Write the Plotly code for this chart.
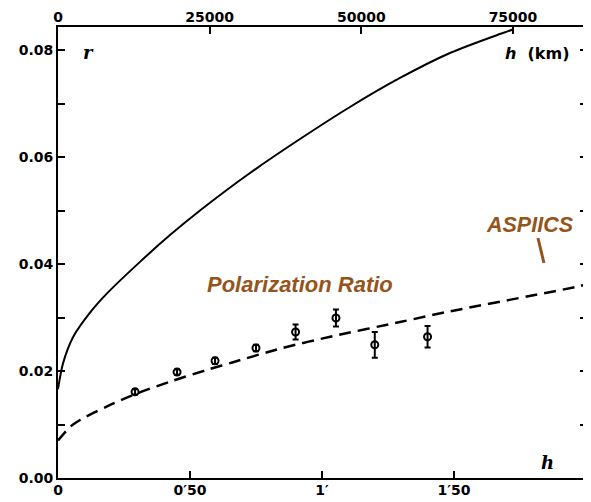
import plotly.graph_objects as go

# Solid curve (upper), x in arcmin
solid_x = [0, 0.0189, 0.0568, 0.1212, 0.1856, 0.3106, 0.4242, 0.5379, 0.7273, 0.9167, 1.1061, 1.2955, 1.4848, 1.6742, 1.7235]
solid_y = [0.0166, 0.0214, 0.0263, 0.0309, 0.0345, 0.0404, 0.0454, 0.0500, 0.05701, 0.06336, 0.06935, 0.07477, 0.07944, 0.08299, 0.08383]

# Dashed curve (polarization ratio)
dash_x = [0, 0.057, 0.186, 0.31, 0.436, 0.564, 0.66, 0.85, 1.04, 1.30, 1.47, 1.97, 2.0]
dash_y = [0.0070, 0.0100, 0.0134, 0.0160, 0.0182, 0.0202, 0.0216, 0.0243, 0.0265, 0.0292, 0.0310, 0.0358, 0.0362]

# Measured points
pts_x = [0.292, 0.451, 0.595, 0.75, 0.90, 1.053, 1.20, 1.40]
pts_y = [0.0161, 0.0198, 0.0219, 0.0243, 0.0273, 0.0299, 0.0249, 0.0264]
pts_err = [0.0005, 0.0005, 0.0006, 0.0006, 0.0014, 0.0016, 0.0024, 0.0020]

# Axes ticks
bottom_tickvals = [0, 0.5, 1.0, 1.5]
bottom_ticktext = ["0", "0′50", "1′", "1′50"]
top_tickvals = [0, 25000, 50000, 75000]
top_ticktext = ["0", "25000", "50000", "75000"]
y_tickvals = [0, 0.01, 0.02, 0.03, 0.04, 0.05, 0.06, 0.07, 0.08]
y_ticktext = ["0.00", "", "0.02", "", "0.04", "", "0.06", "", "0.08"]

X_MAX = 2.004
KM_MAX = 87200
Y_MAX = 0.0843

brown = "#94541c"
tickfont = dict(family="DejaVu Sans", size=14, color="black", weight="bold")

fig = go.Figure()
fig.add_trace(go.Scatter(x=solid_x, y=solid_y, mode="lines",
                         line=dict(color="black", width=2, shape="spline", smoothing=0.8),
                         showlegend=False, hoverinfo="skip"))
fig.add_trace(go.Scatter(x=dash_x, y=dash_y, mode="lines",
                         line=dict(color="black", width=2.5, dash="12px,7px", shape="spline", smoothing=0.8),
                         showlegend=False, hoverinfo="skip"))
fig.add_trace(go.Scatter(x=pts_x, y=pts_y, mode="markers",
                         marker=dict(symbol="circle-open", size=7, color="black", line=dict(width=2)),
                         error_y=dict(type="data", array=pts_err, visible=True, color="black", thickness=2, width=3),
                         showlegend=False))
# dummy trace for top axis
fig.add_trace(go.Scatter(x=[0, KM_MAX], y=[None, None], xaxis="x2", yaxis="y", mode="lines",
                         showlegend=False, hoverinfo="skip"))

# page body has an 8px margin: figure is sized so that plot area lands where the reference has it
fig.update_layout(
    width=583, height=494,
    margin=dict(l=50, r=4, t=19, b=24),
    paper_bgcolor="white", plot_bgcolor="white",
    xaxis=dict(range=[0, X_MAX], tickvals=bottom_tickvals, ticktext=bottom_ticktext,
               ticks="inside", ticklen=7, tickwidth=2, tickcolor="black",
               showline=True, linewidth=2, linecolor="black", showgrid=False, zeroline=False,
               tickfont=tickfont, automargin=False, ticklabelstandoff=-2),
    xaxis2=dict(range=[0, KM_MAX], overlaying="x", side="top", tickvals=top_tickvals, ticktext=top_ticktext,
                ticks="inside", ticklen=7, tickwidth=2, tickcolor="black",
                showline=True, linewidth=2, linecolor="black", showgrid=False, zeroline=False,
                tickfont=tickfont, automargin=False, ticklabelstandoff=-3),
    yaxis=dict(range=[0, Y_MAX], tickvals=y_tickvals, ticktext=y_ticktext,
               ticks="inside", ticklen=7, tickwidth=2, tickcolor="black",
               showline=True, linewidth=2, linecolor="black", mirror="ticks", showgrid=False, zeroline=False,
               tickfont=tickfont, automargin=False),
)

fig.add_annotation(text="<b><i>Polarization Ratio</i></b>", x=(300 - 58) / 264, y=(478 - 284) / 5350,
                   xref="x", yref="y", showarrow=False,
                   font=dict(family="Liberation Sans", size=22, color=brown))
fig.add_annotation(text="<b><i>ASPIICS</i></b>", x=(530 - 58) / 264, y=(478 - 225) / 5350,
                   xref="x", yref="y", showarrow=False,
                   font=dict(family="Liberation Sans", size=21.5, color=brown))
fig.add_shape(type="line", xref="x", yref="y",
              x0=(538 - 58) / 264, y0=(478 - 238) / 5350, x1=(544 - 58) / 264, y1=(478 - 263) / 5350,
              line=dict(color=brown, width=3))
fig.add_annotation(text="<b><i>r</i></b>", x=(88 - 58) / 264, y=(478 - 52) / 5350, xref="x", yref="y",
                   showarrow=False, font=dict(family="DejaVu Serif", size=18, color="black"))
fig.add_annotation(text="<b><i>h</i>  (km)</b>", x=(571 - 58) / 264, y=(478 - 53) / 5350, xref="x", yref="y",
                   xanchor="right", showarrow=False, font=dict(family="DejaVu Sans", size=16, color="black"))
fig.add_annotation(text="<b><i>h</i></b>", x=(548 - 58) / 264, y=(478 - 462) / 5350, xref="x", yref="y",
                   showarrow=False, font=dict(family="DejaVu Serif", size=18, color="black"))

fig.write_html("out.html")
